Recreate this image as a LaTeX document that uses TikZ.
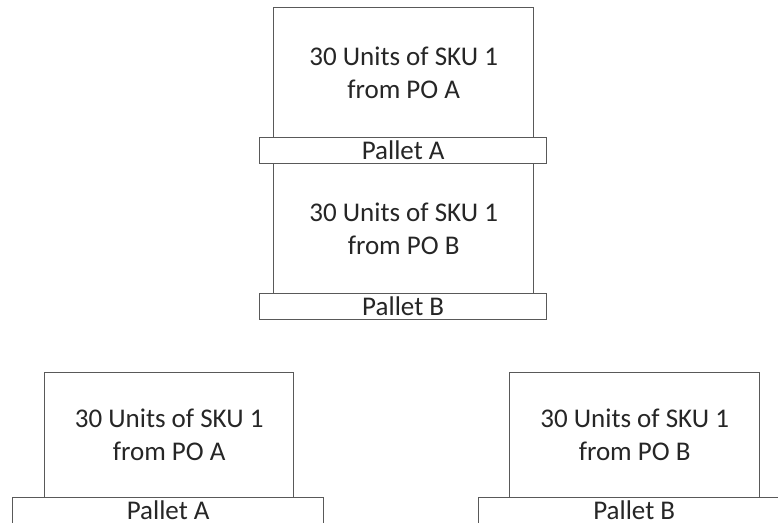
\documentclass[tikz,border=0pt]{standalone}
\usepackage{fontspec}
\setmainfont{Carlito}
\begin{document}
\begin{tikzpicture}[x=1pt,y=1pt,
  every node/.style={font=\fontsize{27}{33}\selectfont, text=black!85},
  loadbox/.style={draw=black!65, line width=1.3pt, fill=white, rectangle, inner sep=0pt, align=center, anchor=north west},
  palletbox/.style={draw=black!65, line width=1.3pt, fill=white, rectangle, inner sep=0pt, anchor=north west}]
\useasboundingbox (0,0) rectangle (778,-527);
\clip (-5,5) rectangle (778,-522.5);
% top stack
\node[loadbox, minimum width=260, minimum height=130] (boxA1) at (273,-7) {30 Units of SKU 1\\from PO A};
\node[loadbox, minimum width=260, minimum height=130] (boxB1) at (273,-163) {30 Units of SKU 1\\from PO B};
\node[palletbox, minimum width=287, minimum height=26] (palA1) at (259,-137) {Pallet A};
\node[palletbox, minimum width=287, minimum height=26] (palB1) at (259,-293) {Pallet B};
% bottom left
\node[loadbox, minimum width=249, minimum height=125] (boxA2) at (44,-372) {30 Units of SKU 1\\from PO A};
\node[palletbox, minimum width=311, minimum height=26] (palA2) at (12,-497) {Pallet A};
% bottom right
\node[loadbox, minimum width=250, minimum height=125] (boxB2) at (509,-372) {30 Units of SKU 1\\from PO B};
\node[palletbox, minimum width=311, minimum height=26] (palB2) at (478,-497) {Pallet B};
\end{tikzpicture}
\end{document}
